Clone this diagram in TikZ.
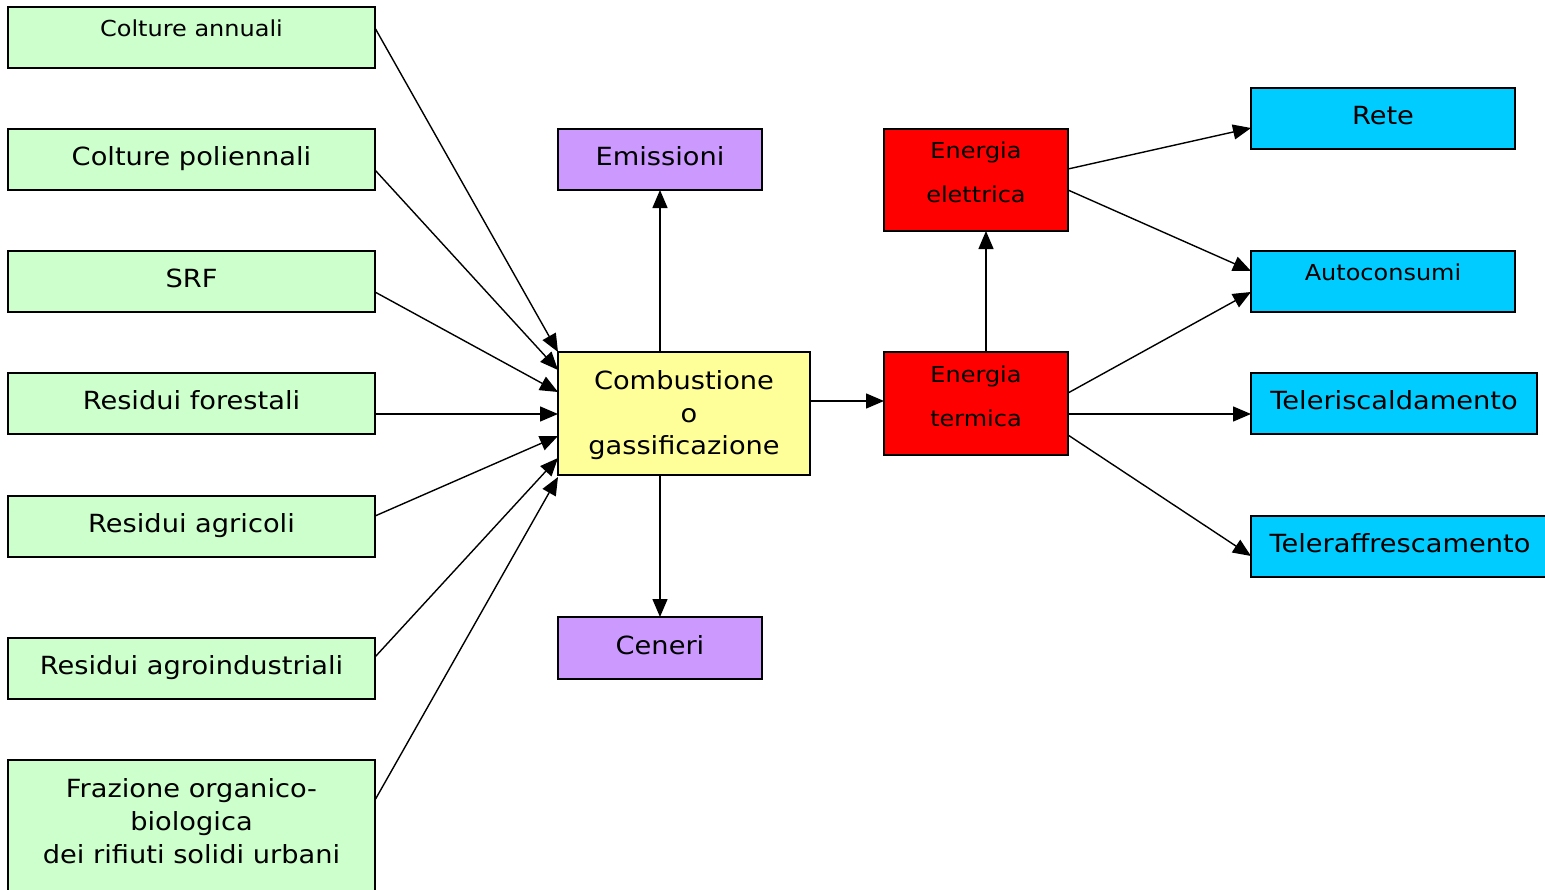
\documentclass[tikz,border=0pt]{standalone}
\usepackage{fontspec}
\setmainfont{DejaVu Sans}[FakeStretch=1.09]
\usetikzlibrary{arrows.meta}
\definecolor{feed}{HTML}{CCFFCC}
\definecolor{proc}{HTML}{FFFF99}
\definecolor{waste}{HTML}{CC99FF}
\definecolor{energy}{HTML}{FF0000}
\definecolor{use}{HTML}{00CCFF}
\tikzset{
  box/.style={draw=black, line width=1.3pt, inner sep=0pt, outer sep=0pt, rectangle},
  big/.style={font=\fontsize{25}{30}\selectfont, inner sep=0pt, anchor=base},
  small/.style={font=\fontsize{22}{26}\selectfont, inner sep=0pt, anchor=base},
  flow/.style={line width=1.4pt, -{Triangle[length=18pt,width=15pt]}},
}
% box from corner coordinates (left, top, right, bottom)
\newcommand{\boxat}[6]{\node[box, fill=#2, minimum width=#5-#3, minimum height=#6-#4] (#1) at ({(#3+#5)/2},{(#4+#6)/2}) {};}
\begin{document}
\begin{tikzpicture}[x=1pt, y=-1pt]
\useasboundingbox (0,0) rectangle (1545,889);
\boxat{ca}{feed}{8}{7}{375}{68}
\boxat{cp}{feed}{8}{129}{375}{190}
\boxat{srf}{feed}{8}{251}{375}{312}
\boxat{rf}{feed}{8}{373}{375}{434}
\boxat{ra}{feed}{8}{496}{375}{557}
\boxat{rai}{feed}{8}{638}{375}{699}
\boxat{fr}{feed}{8}{760}{375}{900}
\boxat{comb}{proc}{558}{352}{810}{475}
\boxat{emi}{waste}{558}{129}{762}{190}
\boxat{cen}{waste}{558}{617}{762}{679}
\boxat{el}{energy}{884}{129}{1068}{231}
\boxat{te}{energy}{884}{352}{1068}{455}
\boxat{rete}{use}{1251}{88}{1515}{149}
\boxat{auto}{use}{1251}{251}{1515}{312}
\boxat{tr}{use}{1251}{373}{1537}{434}
\boxat{taf}{use}{1251}{516}{1552}{577}

% labels
\node[small] (t-ca) at (191.5,36) {Colture annuali};
\node[big] (t-cp) at (191.5,165) {Colture poliennali};
\node[big] (t-srf) at (191.5,287) {SRF};
\node[big] (t-rf) at (191.5,409) {Residui forestali};
\node[big] (t-ra) at (191.5,532) {Residui agricoli};
\node[big] (t-rai) at (191.5,674) {Residui agroindustriali};
\node[big] (t-fr1) at (191.5,797) {Frazione organico-};
\node[big] (t-fr2) at (191.5,830) {biologica};
\node[big] (t-fr3) at (191.5,863) {dei rifiuti solidi urbani};
\node[big] (t-c1) at (684,389) {Combustione};
\node[big] (t-c2) at (689,422) {o};
\node[big] (t-c3) at (684,454) {gassificazione};
\node[big] (t-emi) at (660,165) {Emissioni};
\node[big] (t-cen) at (660,654) {Ceneri};
\node[small] (t-el1) at (976,158) {Energia};
\node[small] (t-el2) at (976,202) {elettrica};
\node[small] (t-te1) at (976,382) {Energia};
\node[small] (t-te2) at (976,426) {termica};
\node[big] (t-rete) at (1383,124) {Rete};
\node[small] (t-auto) at (1383,280) {Autoconsumi};
\node[big] (t-tr) at (1394,409) {Teleriscaldamento};
\node[big] (t-taf) at (1400,552) {Teleraffrescamento};

% feedstocks into the conversion step
\draw[flow] ([yshift=-21pt]ca.north east) -- ([yshift=0pt]comb.north west);
\draw[flow] ([yshift=-41pt]cp.north east) -- ([yshift=-18pt]comb.north west);
\draw[flow] ([yshift=-41pt]srf.north east) -- ([yshift=-40pt]comb.north west);
\draw[flow] ([yshift=-41pt]rf.north east) -- ([yshift=-62pt]comb.north west);
\draw[flow] ([yshift=-20pt]ra.north east) -- ([yshift=-84pt]comb.north west);
\draw[flow] ([yshift=-19pt]rai.north east) -- ([yshift=-106pt]comb.north west);
\draw[flow] ([yshift=-40pt]fr.north east) -- ([yshift=-125pt]comb.north west);

% by-products
\draw[flow] (comb.north -| emi.south) -- (emi.south);
\draw[flow] (comb.south -| cen.north) -- (cen.north);

% energy
\draw[flow] ([yshift=-49pt]comb.north east) -- ([yshift=-49pt]te.north west);
\draw[flow] ([xshift=10pt]te.north) -- ([xshift=10pt]el.south);
\draw[flow] ([yshift=-40pt]el.north east) -- ([yshift=-40pt]rete.north west);
\draw[flow] ([yshift=-61pt]el.north east) -- ([yshift=-20pt]auto.north west);
\draw[flow] ([yshift=-41pt]te.north east) -- ([yshift=-41pt]auto.north west);
\draw[flow] ([yshift=-62pt]te.north east) -- ([yshift=-41pt]tr.north west);
\draw[flow] ([yshift=-83pt]te.north east) -- ([yshift=-40pt]taf.north west);
\end{tikzpicture}
\end{document}
